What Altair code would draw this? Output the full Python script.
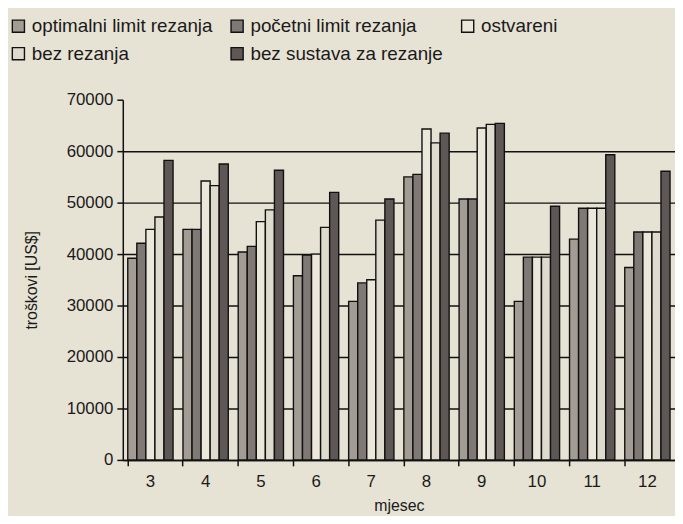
import altair as alt
import pandas as pd

months = ["3", "4", "5", "6", "7", "8", "9", "10", "11", "12"]
series = ["optimalni limit rezanja", "početni limit rezanja", "ostvareni",
          "bez rezanja", "bez sustava za rezanje"]
optimalni = [39200, 44800, 40400, 35800, 30800, 55000, 50700, 30800, 42900, 37400]
pocetni = [42100, 44800, 41500, 39800, 34400, 55500, 50700, 39400, 48900, 44300]
ostvareni = [44800, 54200, 46300, 40000, 35000, 64300, 64500, 39400, 48900, 44300]
bez_rezanja = [47200, 53300, 48600, 45200, 46600, 61600, 65200, 39400, 48900, 44300]
bez_sustava = [58200, 57500, 56300, 52000, 50700, 63500, 65400, 49300, 59300, 56100]
colors = ["#a39c95", "#7f7874", "#ebe7db", "#dedacd", "#5f5755"]
y_ticks = [0, 10000, 20000, 30000, 40000, 50000, 60000, 70000]

rows = []
for s, vals in zip(series, [optimalni, pocetni, ostvareni, bez_rezanja, bez_sustava]):
    for m, v in zip(months, vals):
        rows.append({"mjesec": m, "serija": s, "troskovi": v})
df = pd.DataFrame(rows)

FONT = "Liberation Sans"
TXT = "#1a1a1a"

chart = alt.Chart(df).mark_bar(stroke="#111111", strokeWidth=1.4).encode(
    x=alt.X("mjesec:N", sort=months, title="mjesec",
            scale=alt.Scale(paddingInner=0.18, paddingOuter=0.09),
            axis=alt.Axis(bandPosition=0, labelAngle=0,
                          tickSize=6, tickColor="#111111", tickWidth=1.5,
                          domainColor="#111111", domainWidth=1.5,
                          labelFont=FONT, labelFontSize=17, labelColor=TXT,
                          labelPadding=8, titleFont=FONT, titleFontSize=16,
                          titleFontWeight="normal", titleColor=TXT,
                          titlePadding=8)),
    xOffset=alt.XOffset("serija:N", sort=series,
                        scale=alt.Scale(paddingInner=0, paddingOuter=0)),
    y=alt.Y("troskovi:Q", title="troškovi [US$]",
            scale=alt.Scale(domain=[0, 70000], nice=False),
            axis=alt.Axis(values=y_ticks, format="d", grid=True,
                          gridColor="#111111", gridWidth=1.5,
                          gridOpacity={"condition": {"test": "datum.value >= 70000", "value": 0}, "value": 1},
                          tickSize=6, tickColor="#111111", tickWidth=1.5,
                          domainColor="#111111", domainWidth=1.5,
                          labelFont=FONT, labelFontSize=17, labelColor=TXT,
                          labelPadding=4, titleFont=FONT, titleFontSize=16,
                          titleFontWeight="normal", titleColor=TXT,
                          titlePadding=27)),
    fill=alt.Fill("serija:N", sort=series,
                  scale=alt.Scale(domain=series, range=colors),
                  legend=alt.Legend(title=None, orient="none", legendX=-115,
                                    legendY=-84, columns=3, direction="horizontal",
                                    symbolType="square", symbolSize=150,
                                    symbolStrokeColor="#111111",
                                    symbolStrokeWidth=1.4, symbolOpacity=1,
                                    labelFont=FONT, labelFontSize=19,
                                    labelColor=TXT, labelOffset=4,
                                    columnPadding=15, rowPadding=8,
                                    labelLimit=400)),
).properties(
    width=558,
    height=364,
    background="#e6e2d4",
    autosize=alt.AutoSizeParams(type="none"),
    padding={"left": 116, "top": 90, "right": 0, "bottom": 54},
).configure_view(stroke=None)

chart.save("out.html", embed_options={"renderer": "svg", "actions": False})
